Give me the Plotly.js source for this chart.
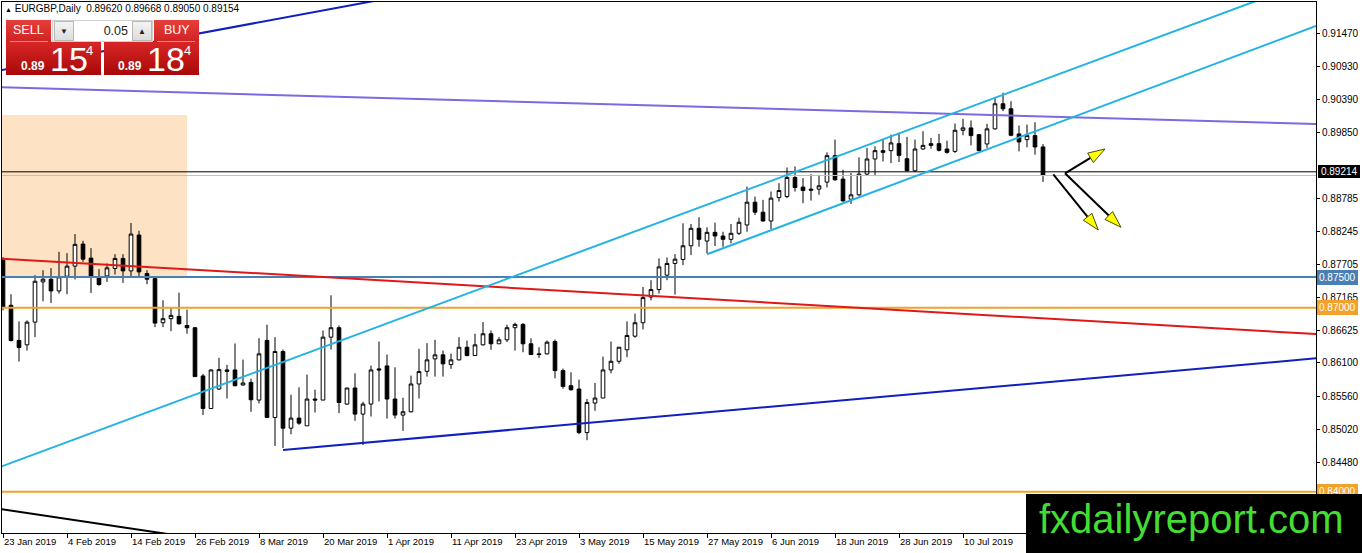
<!DOCTYPE html>
<html>
<head>
<meta charset="utf-8">
<script src="https://cdn.plot.ly/plotly-3.0.1.min.js"></script>
<style>
body{margin:0;background:#fff;}
#wrap{position:relative;width:1362px;height:553px;overflow:hidden;font-family:'Liberation Sans',Arial,sans-serif;}
#chart{position:absolute;left:0;top:0;width:1362px;height:553px;}
.ov{position:absolute;z-index:10;color:#fff;white-space:pre;}
.btn{background:linear-gradient(#e6403a,#cf2222);font-size:12.5px;line-height:21px;}
.big{background:linear-gradient(#d82626,#a90808);}
.grey{background:linear-gradient(#f4f4f4,#dcdcdc);border:1px solid #b9b9b9;box-sizing:border-box;color:#222;font-size:8px;text-align:center;line-height:19px;}
</style>
</head>
<body>
<div id="wrap">
<div id="chart"></div>
<div class="ov" style="left:5px;top:3px;color:#000;font-size:10px;line-height:12px;"><span style="font-size:7px;">▲</span> EURGBP,Daily  0.89620 0.89668 0.89050 0.89154</div>
<div class="ov btn" style="left:6px;top:20px;width:45px;height:22px;"><span style="position:absolute;left:7px;top:0;">SELL</span></div>
<div class="ov" style="left:52px;top:20px;width:101px;height:22px;background:#f3f3f3;border:1px solid #cfcfcf;box-sizing:border-box;"></div>
<div class="ov grey" style="left:54px;top:21px;width:20px;height:20px;">▼</div>
<div class="ov" style="left:74px;top:21px;width:58px;height:20px;background:#fff;color:#222;font-size:12.5px;line-height:20px;text-align:right;"><span style="padding-right:4px;">0.05</span></div>
<div class="ov grey" style="left:132px;top:21px;width:20px;height:20px;">▲</div>
<div class="ov btn" style="left:154px;top:20px;width:45px;height:22px;"><span style="position:absolute;left:10px;top:0;">BUY</span></div>
<div class="ov" style="left:10px;top:41px;width:38px;height:1px;background:#f08a86;"></div>
<div class="ov" style="left:157px;top:41px;width:38px;height:1px;background:#f08a86;"></div>
<div class="ov big" style="left:6px;top:42px;width:95px;height:33px;">
  <span style="position:absolute;left:15px;top:17px;font-size:12px;font-weight:bold;">0.89</span>
  <span style="position:absolute;left:44px;top:-2px;font-size:34px;font-family:'Liberation Sans Narrow','Liberation Sans',sans-serif;">15</span>
  <span style="position:absolute;left:80px;top:1px;font-size:13px;">4</span>
</div>
<div class="ov big" style="left:104px;top:42px;width:95px;height:33px;">
  <span style="position:absolute;left:14px;top:17px;font-size:12px;font-weight:bold;">0.89</span>
  <span style="position:absolute;left:43px;top:-2px;font-size:34px;font-family:'Liberation Sans Narrow','Liberation Sans',sans-serif;">18</span>
  <span style="position:absolute;left:80px;top:1px;font-size:13px;">4</span>
</div>
<div id="curBox" class="ov" style="left:1318px;width:42px;height:13px;background:#000;color:#fff;font-size:10px;line-height:13px;text-align:center;"></div>
<div class="ov" style="left:1026px;top:494px;width:336px;height:59px;background:#000;">
  <span style="position:absolute;left:13px;top:3px;font-size:40px;color:#44dd33;">fxdailyreport.com</span>
</div>
</div>
<script>
// ---- data (EURGBP daily, one value per trading day, bar index 0 = 23 Jan 2019) ----
const openP = [0.87775,0.87039,0.86466,0.86395,0.86765,0.8742,0.87464,0.87273,0.87513,0.87677,
0.88037,0.87808,0.87502,0.87518,0.87639,0.87803,0.876,0.88184,0.87557,0.87475,
0.86755,0.86821,0.86859,0.86711,0.86674,0.85888,0.85358,0.85675,0.85986,0.85986,
0.85741,0.85783,0.85495,0.86466,0.85211,0.86286,0.85037,0.85201,0.85075,0.85512,
0.85495,0.8652,0.86674,0.8543,0.85692,0.85266,0.8543,0.86003,0.86052,0.85512,
0.8525,0.85304,0.85757,0.85963,0.86166,0.86232,0.86073,0.8615,0.86356,0.8622,
0.86395,0.86575,0.86412,0.86477,0.86674,0.86728,0.86412,0.86248,0.86248,0.86449,
0.85975,0.85729,0.85675,0.84965,0.85446,0.85528,0.85986,0.86127,0.86314,0.86536,
0.86755,0.87174,0.87295,0.8753,0.87721,0.87786,0.88009,0.88294,0.88086,0.88228,
0.88168,0.88114,0.88212,0.88348,0.88719,0.88556,0.88413,0.88794,0.88811,0.89122,
0.88965,0.88932,0.88932,0.89046,0.89477,0.89096,0.88768,0.88839,0.89177,0.89423,
0.89559,0.89559,0.89673,0.89428,0.89231,0.89586,0.89673,0.89673,0.89586,0.89547,
0.89891,0.8993,0.8982,0.89668,0.89914,0.90323,0.90241,0.89832,0.89739,0.89804,
0.8962];
const highP = [0.87824,0.87219,0.86777,0.86793,0.8753,0.87611,0.87644,0.87911,0.87889,0.882,
0.88091,0.87971,0.87628,0.87721,0.87873,0.87873,0.8838,0.88254,0.87611,0.87502,
0.8712,0.86994,0.87246,0.86968,0.86679,0.85921,0.85991,0.86183,0.86068,0.86417,
0.86155,0.85844,0.86503,0.86723,0.8652,0.86319,0.85582,0.85702,0.85909,0.85664,
0.86629,0.87202,0.86711,0.85692,0.85931,0.85468,0.86057,0.86449,0.86237,0.86029,
0.85533,0.85893,0.8633,0.86422,0.86477,0.86302,0.86253,0.8652,0.86466,0.86575,
0.86765,0.86629,0.8652,0.86723,0.86755,0.86749,0.86503,0.86356,0.86466,0.86482,
0.86008,0.85947,0.85828,0.85512,0.85774,0.86204,0.86449,0.86356,0.86777,0.86903,
0.87338,0.87448,0.87803,0.87819,0.87873,0.88375,0.88364,0.88474,0.8831,0.88385,
0.88238,0.88364,0.88467,0.88974,0.88811,0.88757,0.88893,0.8903,0.89285,0.89302,
0.89112,0.89177,0.89166,0.89531,0.89739,0.89248,0.89194,0.89449,0.89603,0.89629,
0.89739,0.8982,0.89848,0.89783,0.89739,0.89874,0.89766,0.89832,0.89722,0.9,
0.90077,0.9005,0.8982,0.89996,0.90431,0.90503,0.90365,0.89968,0.89984,0.90022,
0.89668];
const lowP = [0.86957,0.8645,0.86122,0.86302,0.8652,0.87104,0.87076,0.8723,0.87219,0.87459,
0.87747,0.8724,0.87358,0.8742,0.87541,0.87404,0.87513,0.87513,0.87382,0.86683,
0.86683,0.86618,0.86723,0.86575,0.85877,0.8525,0.85348,0.85659,0.85522,0.85718,
0.85729,0.85304,0.8544,0.85211,0.84748,0.84715,0.84939,0.85091,0.85075,0.85293,
0.85495,0.86319,0.85283,0.85418,0.85157,0.84764,0.85227,0.85473,0.85194,0.85194,
0.84993,0.85293,0.85522,0.85877,0.85877,0.85877,0.86003,0.86139,0.86209,0.8622,
0.86384,0.86314,0.86412,0.86438,0.86302,0.86274,0.86237,0.86183,0.86237,0.85849,
0.8568,0.85648,0.84939,0.84841,0.8532,0.85528,0.85931,0.86085,0.86193,0.8651,
0.86646,0.8712,0.8723,0.87448,0.87214,0.87693,0.87857,0.87993,0.87885,0.88004,
0.87993,0.88048,0.88184,0.88238,0.88511,0.88402,0.88282,0.88729,0.88785,0.88893,
0.88703,0.88745,0.88839,0.88958,0.89068,0.88729,0.88691,0.88822,0.89154,0.89154,
0.89384,0.89357,0.89374,0.8922,0.8921,0.89575,0.89591,0.89547,0.8951,0.89521,
0.89809,0.89645,0.89547,0.89603,0.89902,0.90202,0.89793,0.89547,0.89613,0.89493,
0.8905];
const closeP = [0.87011,0.86466,0.86351,0.86765,0.87431,0.87464,0.87273,0.87502,0.87677,0.88032,
0.87791,0.87502,0.87377,0.87649,0.87803,0.876,0.882,0.87583,0.87464,0.86749,
0.86821,0.86875,0.86739,0.86674,0.85877,0.85358,0.85986,0.85991,0.85963,0.85729,
0.85774,0.855,0.86248,0.85211,0.86286,0.85037,0.85201,0.85119,0.85512,0.85495,
0.8652,0.86674,0.85456,0.85692,0.85266,0.8543,0.85986,0.85986,0.85512,0.8525,
0.85304,0.85757,0.85959,0.8615,0.86232,0.86085,0.8615,0.86356,0.8622,0.86395,
0.86575,0.86412,0.86477,0.86674,0.86728,0.86412,0.86237,0.86237,0.86438,0.85975,
0.85718,0.85664,0.84965,0.85456,0.85528,0.85986,0.86127,0.86356,0.86548,0.86755,
0.87165,0.87295,0.87665,0.87721,0.87791,0.88009,0.88294,0.88114,0.88228,0.88168,
0.88114,0.88212,0.88392,0.88719,0.88556,0.88413,0.88785,0.88909,0.89122,0.88958,
0.88909,0.88916,0.88986,0.89477,0.89084,0.8874,0.88839,0.89177,0.89423,0.89559,
0.89531,0.89685,0.89482,0.89231,0.89586,0.89645,0.89645,0.89564,0.89531,0.89891,
0.8993,0.89804,0.89559,0.89914,0.90323,0.90241,0.89809,0.89701,0.89804,0.89619,
0.89154];

// x-axis labels (every 8th trading day)
const xTickIdx = [0,8,16,24,32,40,48,56,64,72,80,88,96,104,112,120];
const xTickText = ['23 Jan 2019','4 Feb 2019','14 Feb 2019','26 Feb 2019','8 Mar 2019','20 Mar 2019','1 Apr 2019','11 Apr 2019','23 Apr 2019','3 May 2019','15 May 2019','27 May 2019','6 Jun 2019','18 Jun 2019','28 Jun 2019','10 Jul 2019'];
// price scale labels (0.89310 sits under the current-price box and is left out)
const yTickVals = [0.9147,0.9093,0.9039,0.8985,0.88785,0.88245,0.87705,0.87165,0.86625,0.861,0.8556,0.8502,0.8448];

// horizontal levels
const levelCurrent = 0.89214;
const levelBid = 0.89154;
const level875 = 0.875;
const level870 = 0.87;
const level840 = 0.84;

// trend lines: [bar index], [price]
const cyanUpperX = [-0.375, 157.125], cyanUpperY = [0.84404, 0.92022];
const cyanLowerX = [88, 164.125],    cyanLowerY = [0.8787, 0.9159];
const redX = [-0.375, 164.125],      redY = [0.87801, 0.86571];
const purpleX = [-0.375, 164.125],   purpleY = [0.90591, 0.89993];
const blueTopX = [-0.375, 49.625],   blueTopY = [0.90867, 0.92076];
const blueBotX = [35, 164.125],      blueBotY = [0.84681, 0.86175];
const blackBotX = [-0.375, 24.625],  blackBotY = [0.8372, 0.83234];
// shaded zone
const zoneX = [-0.5, 23], zoneY = [0.875, 0.9014];
// scenario arrows: start and tip
const arrowStartX = [132.75, 131.29, 132.75];
const arrowStartY = [0.8919, 0.89173, 0.8919];
const arrowTipX = [137.75, 136.91, 139.75];
const arrowTipY = [0.89586, 0.88266, 0.8831];

// ---- build ----
const idx = openP.map((_, i) => i);
const W = 1362, H = 553, M = {l:2, r:46, t:2, b:20};
const xR = [-0.125, 164.125], yR = [0.83329, 0.91981];
const plotW = W - M.l - M.r, plotH = H - M.t - M.b;
const sx = plotW / (xR[1] - xR[0]), sy = plotH / (yR[1] - yR[0]);

const shapes = [];
shapes.push({type:'rect', xref:'x', yref:'y', x0:zoneX[0], x1:zoneX[1], y0:zoneY[0], y1:zoneY[1], fillcolor:'#fde2c4', line:{width:0}, layer:'below'});
function hline(y, color, width){ shapes.push({type:'line', xref:'paper', x0:0, x1:1, yref:'y', y0:y, y1:y, line:{color, width}}); }
hline(levelBid, '#c0c0c0', 1);
hline(levelCurrent, '#000000', 1);
hline(level875, '#4a7fb3', 2);
hline(level870, '#f2a22a', 2);
hline(level840, '#f2a22a', 2);
function seg(xs, ys, color, width){ shapes.push({type:'line', xref:'x', yref:'y', x0:xs[0], x1:xs[1], y0:ys[0], y1:ys[1], line:{color, width}}); }
seg(redX, redY, '#e01818', 2);
seg(purpleX, purpleY, '#7b6ae0', 2);
seg(blueTopX, blueTopY, '#1020c0', 2);
seg(blueBotX, blueBotY, '#1020c0', 2);
seg(blackBotX, blackBotY, '#000000', 2);
seg(cyanUpperX, cyanUpperY, '#22b2e4', 2);
seg(cyanLowerX, cyanLowerY, '#22b2e4', 2);

function arrow(x0, y0, x1, y1){
  const dxp = (x1 - x0) * sx, dyp = -(y1 - y0) * sy;
  const L = Math.hypot(dxp, dyp), ux = dxp / L, uy = dyp / L;
  const hl = 17, hw = 5.5;
  const bxp = -hl * ux, byp = -hl * uy;
  const bx = x1 + bxp / sx, by = y1 - byp / sy;
  const px = -uy * hw, py = ux * hw;
  const lx = bx + px / sx, ly = by - py / sy;
  const rx = bx - px / sx, ry = by + py / sy;
  shapes.push({type:'line', xref:'x', yref:'y', x0, y0, x1:bx, y1:by, line:{color:'#000', width:2}});
  shapes.push({type:'path', xref:'x', yref:'y', path:`M${x1},${y1} L${lx},${ly} L${rx},${ry} Z`, fillcolor:'#ffff00', line:{color:'#4a4a10', width:1}});
}
for (let k = 0; k < arrowTipX.length; k++) arrow(arrowStartX[k], arrowStartY[k], arrowTipX[k], arrowTipY[k]);

function lab(y, text, bg, fg){
  return {xref:'paper', x:1, xanchor:'left', xshift:1, yref:'y', y, yanchor:'middle', text, showarrow:false,
    bgcolor:bg, bordercolor:bg, borderwidth:1, borderpad:1,
    font:{family:'Liberation Sans, Arial', size:10, color:fg}};
}
const annotations = [
  lab(level875, level875.toFixed(5), 'rgb(74,127,179)', '#ffffff'),
  lab(level870, level870.toFixed(5), 'rgb(242,162,42)', '#ffffff'),
  lab(level840, level840.toFixed(5), 'rgb(242,162,42)', '#ffffff')
];

// current-price box on the price scale
const cur = document.getElementById('curBox');
cur.textContent = levelCurrent.toFixed(5);
cur.style.top = (M.t + (yR[1] - levelCurrent) * sy - 6.5) + 'px';

const trace = {
  type:'candlestick', x:idx, open:openP, high:highP, low:lowP, close:closeP,
  increasing:{line:{color:'#000', width:1}, fillcolor:'#ffffff'},
  decreasing:{line:{color:'#000', width:1}, fillcolor:'#000000'},
  whiskerwidth:0, hoverinfo:'skip', showlegend:false
};

const layout = {
  width:W, height:H, margin:M, paper_bgcolor:'#fff', plot_bgcolor:'#fff',
  showlegend:false, boxgap:0.35, dragmode:false,
  font:{family:'Liberation Sans, Arial, sans-serif', size:10, color:'#000'},
  xaxis:{type:'linear', range:xR, fixedrange:true, rangeslider:{visible:false},
    tickvals:xTickIdx, ticktext:xTickText, ticks:'outside', ticklen:4, tickcolor:'#000',
    ticklabelposition:'outside right', tickfont:{size:9.5},
    showgrid:false, zeroline:false, showline:true, linecolor:'#000', linewidth:1, mirror:true},
  yaxis:{side:'right', range:yR, fixedrange:true,
    tickvals:yTickVals, ticktext:yTickVals.map(v => v.toFixed(5)), ticks:'outside', ticklen:3, tickcolor:'#000',
    tickfont:{size:10}, showgrid:false, zeroline:false, showline:true, linecolor:'#000', linewidth:1, mirror:true},
  shapes, annotations
};
Plotly.newPlot('chart', [trace], layout, {displayModeBar:false, staticPlot:true});
</script>
</body>
</html>
